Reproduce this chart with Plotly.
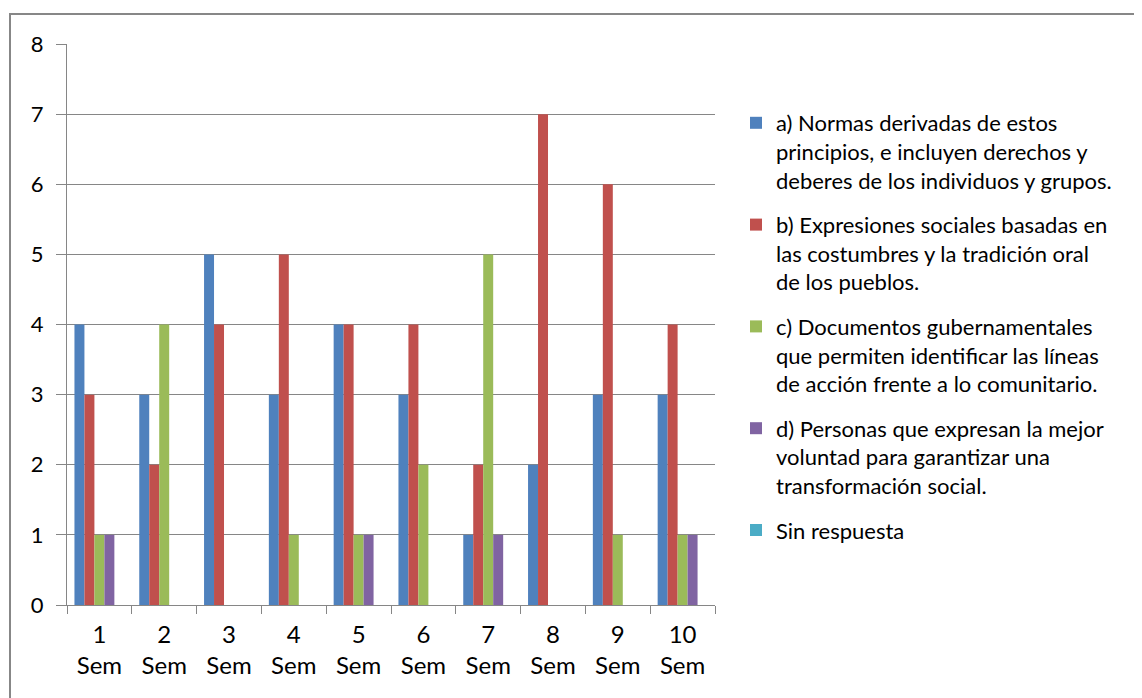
import plotly.graph_objects as go

categories = ["1<br>Sem", "2<br>Sem", "3<br>Sem", "4<br>Sem", "5<br>Sem",
              "6<br>Sem", "7<br>Sem", "8<br>Sem", "9<br>Sem", "10<br>Sem"]

series_names = [
    "a) Normas derivadas de estos<br>principios, e incluyen derechos y<br>deberes de los individuos y grupos.",
    "b) Expresiones sociales basadas en<br>las costumbres y la tradición oral<br>de los pueblos.",
    "c) Documentos gubernamentales<br>que permiten identificar las líneas<br>de acción frente a lo comunitario.",
    "d) Personas que expresan la mejor<br>voluntad para garantizar una<br>transformación social.",
    "Sin respuesta",
]

serie_a = [4, 3, 5, 3, 4, 3, 1, 2, 3, 3]
serie_b = [3, 2, 4, 5, 4, 4, 2, 7, 6, 4]
serie_c = [1, 4, 0, 1, 1, 2, 5, 0, 1, 1]
serie_d = [1, 0, 0, 0, 1, 0, 1, 0, 0, 1]
serie_e = [0, 0, 0, 0, 0, 0, 0, 0, 0, 0]

colors = ["#4F81BD", "#C0504D", "#9BBB59", "#8064A2", "#4BACC6"]

FONT = "Lato"
fig = go.Figure()
for i, (name, vals) in enumerate(zip(series_names,
                                     [serie_a, serie_b, serie_c, serie_d, serie_e])):
    fig.add_trace(go.Bar(x=categories, y=vals, name=name,
                         marker=dict(color=colors[i], line=dict(width=0)),
                         legendgroup=f"g{i}"))

OFF = 8  # page body margin
W, H = 1142, 698
L, R, T, B = 67 - OFF, 715 - OFF, 44 - OFF, 605 - OFF
pw, ph = R - L, B - T

def px_x(p):
    return (p - OFF - L) / pw

def px_y(p):
    return (B - (p - OFF)) / ph

fig.update_layout(
    width=W, height=H,
    margin=dict(l=L, r=W - R, t=T, b=H - B, autoexpand=False),
    paper_bgcolor="white", plot_bgcolor="white",
    font=dict(family=FONT, size=22, color="black"),
    barmode="group", bargap=0.23, bargroupgap=0,
    showlegend=True,
    legend=dict(x=px_x(736), y=px_y(102), xanchor="left", yanchor="top",
                font=dict(family=FONT, size=22, color="black"),
                traceorder="grouped", tracegroupgap=13, valign="top",
                bgcolor="rgba(0,0,0,0)", itemwidth=30),
    xaxis=dict(showline=True, linecolor="#868686", linewidth=1,
               ticks="outside", tickson="boundaries", ticklen=8,
               tickcolor="#868686", showgrid=False, ticklabelstandoff=8,
               tickfont=dict(family=FONT, size=24, color="black")),
    yaxis=dict(range=[0, 8], dtick=1, showline=True, linecolor="#868686",
               linewidth=1, ticks="outside", ticklen=10, tickcolor="#868686",
               showgrid=True, gridcolor="#868686", gridwidth=1,
               zeroline=False, ticklabelstandoff=8,
               tickfont=dict(family=FONT, size=22, color="black")),
    shapes=[dict(type="rect", xref="paper", yref="paper",
                 x0=px_x(10), x1=px_x(1170), y0=px_y(730), y1=px_y(14),
                 line=dict(color="#878787", width=2), fillcolor="rgba(0,0,0,0)",
                 layer="below")],
)

fig.write_html("out.html")
